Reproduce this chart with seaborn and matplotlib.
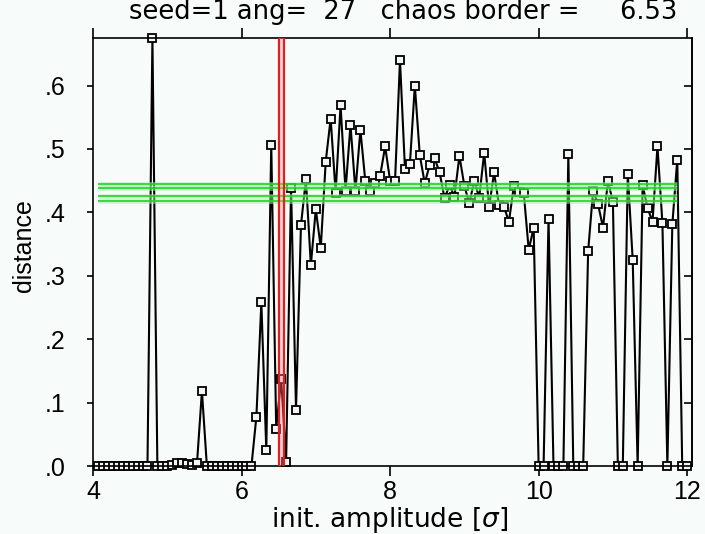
import numpy as np
import matplotlib
matplotlib.use("Agg")
import matplotlib.pyplot as plt
import seaborn as sns

# distance after integration, one value per initial amplitude step (1/15 sigma)
distance = [
    0, 0, 0, 0, 0, 0, 0, 0, 0, 0,                                  # 4.07 - 4.67
    0, 0.675, 0, 0, 0, 0.002, 0.005, 0.004, 0.003, 0.002,          # 4.73 - 5.33
    0.004, 0.118, 0, 0, 0, 0, 0, 0, 0, 0,                          # 5.40 - 6.00
    0, 0, 0.078, 0.258, 0.025, 0.507, 0.059, 0.137, 0.007, 0.439,  # 6.07 - 6.67
    0.089, 0.380, 0.452, 0.317, 0.405, 0.344, 0.480, 0.548, 0.431, 0.569,  # 6.73 - 7.33
    0.434, 0.538, 0.434, 0.530, 0.449, 0.434, 0.446, 0.458, 0.504, 0.450,  # 7.40 - 8.00
    0.450, 0.640, 0.469, 0.476, 0.600, 0.490, 0.446, 0.475, 0.485, 0.463,  # 8.07 - 8.67
    0.422, 0.443, 0.425, 0.489, 0.442, 0.414, 0.450, 0.423, 0.494, 0.408,  # 8.73 - 9.33
    0.463, 0.411, 0.409, 0.385, 0.442, 0.432, 0.430, 0.341, 0.376, 0,      # 9.40 - 10.00
    0, 0.390, 0, 0, 0, 0.492, 0, 0, 0, 0.339,                      # 10.07 - 10.67
    0.434, 0.413, 0.376, 0.450, 0.416, 0, 0, 0.461, 0.325, 0,      # 10.73 - 11.33
    0.443, 0.407, 0.385, 0.504, 0.383, 0, 0.381, 0.483, 0, 0,      # 11.40 - 12.00
]
amplitude = np.round(4 + np.arange(1, len(distance) + 1) / 15, 4)

# reference levels (green) and the chaos border (red)
band_levels = [0.4448, 0.4385, 0.4259, 0.4172]
band_from, band_to = 4 + 1 / 15, 4 + 118 / 15
chaos_border = 6.533
border_halfwidth = 1 / 30

x_ticks = [4, 6, 8, 10, 12]
x_ticklabels = ["4", "6", "8", "10", "12"]
y_ticks = [0.0, 0.1, 0.2, 0.3, 0.4, 0.5, 0.6]
y_ticklabels = [".0", ".1", ".2", ".3", ".4", ".5", ".6"]

title = "seed=1 ang=  27   chaos border =     6.53"
x_label = r"init. amplitude [$\sigma$]"
y_label = "distance"

bg = "#f7fbf9"
sns.set_theme(style="ticks")
plt.rcParams["font.family"] = ["Liberation Sans", "DejaVu Sans"]
plt.rcParams["mathtext.fontset"] = "dejavusans"

W, H = 705, 534
fig = plt.figure(figsize=(W / 100, H / 100), dpi=100, facecolor=bg)
ax = fig.add_axes([93 / W, 1 - 466 / H, (692 - 93) / W, (466 - 38) / H])
ax.set_facecolor(bg)

sns.lineplot(x=amplitude, y=distance, ax=ax, color="black", linewidth=1.5,
             marker="s", markersize=5.5, markerfacecolor="#f4f4f4",
             markeredgecolor="black", markeredgewidth=1.3, zorder=2, clip_on=False)

for lvl in band_levels:
    ax.hlines(lvl, band_from, band_to, color="#a8f0a8", linewidth=3.4, alpha=0.55, zorder=3)
for lvl in band_levels:
    ax.hlines(lvl, band_from, band_to, color="#1ed41e", linewidth=1.3, alpha=0.9, zorder=3.5)

ax.axvspan(chaos_border - border_halfwidth, chaos_border + border_halfwidth,
           color="#ff9a9a", alpha=0.35, linewidth=0, zorder=4)
for xb in (chaos_border - border_halfwidth, chaos_border + border_halfwidth):
    ax.axvline(xb, color="#e81c1c", linewidth=1.6, zorder=4.5)

ax.set_xlim(4, 12.065)
ax.set_ylim(0, max(distance))
ax.set_xticks(x_ticks)
ax.set_xticklabels(x_ticklabels)
ax.set_yticks(y_ticks)
ax.set_yticklabels(y_ticklabels)
ax.set_xlabel("")
ax.set_ylabel("")

for sp in ax.spines.values():
    sp.set_color("black")
    sp.set_linewidth(1.2)
ax.tick_params(axis="x", which="major", direction="out", length=7, width=1.2,
               top=True, labeltop=False, labelsize=18, pad=3, colors="black")
ax.tick_params(axis="y", which="major", direction="out", length=4, width=1.2,
               right=False, labelsize=18, pad=16, colors="black")

# inward ticks on the right-hand frame
right = ax.twinx()
right.set_ylim(ax.get_ylim())
right.set_yticks(y_ticks[1:])
right.tick_params(axis="y", direction="in", length=6, width=1.2, labelright=False,
                  colors="black")
right.spines["right"].set_linewidth(1.2)
right.spines["right"].set_color("black")
for name in ("left", "top", "bottom"):
    right.spines[name].set_visible(False)

fig.text(403 / W, 1 - 19 / H, title, ha="center", va="baseline", fontsize=18.5,
         color="black", family="DejaVu Sans")
fig.text(390 / W, 1 - 527 / H, x_label, ha="center", va="baseline", fontsize=19,
         color="black", family="DejaVu Sans")
fig.text(24 / W, 1 - 246 / H, y_label, ha="center", va="center", rotation=90, fontsize=18,
         color="black")

fig.savefig("out.png", dpi=100, facecolor=bg)
